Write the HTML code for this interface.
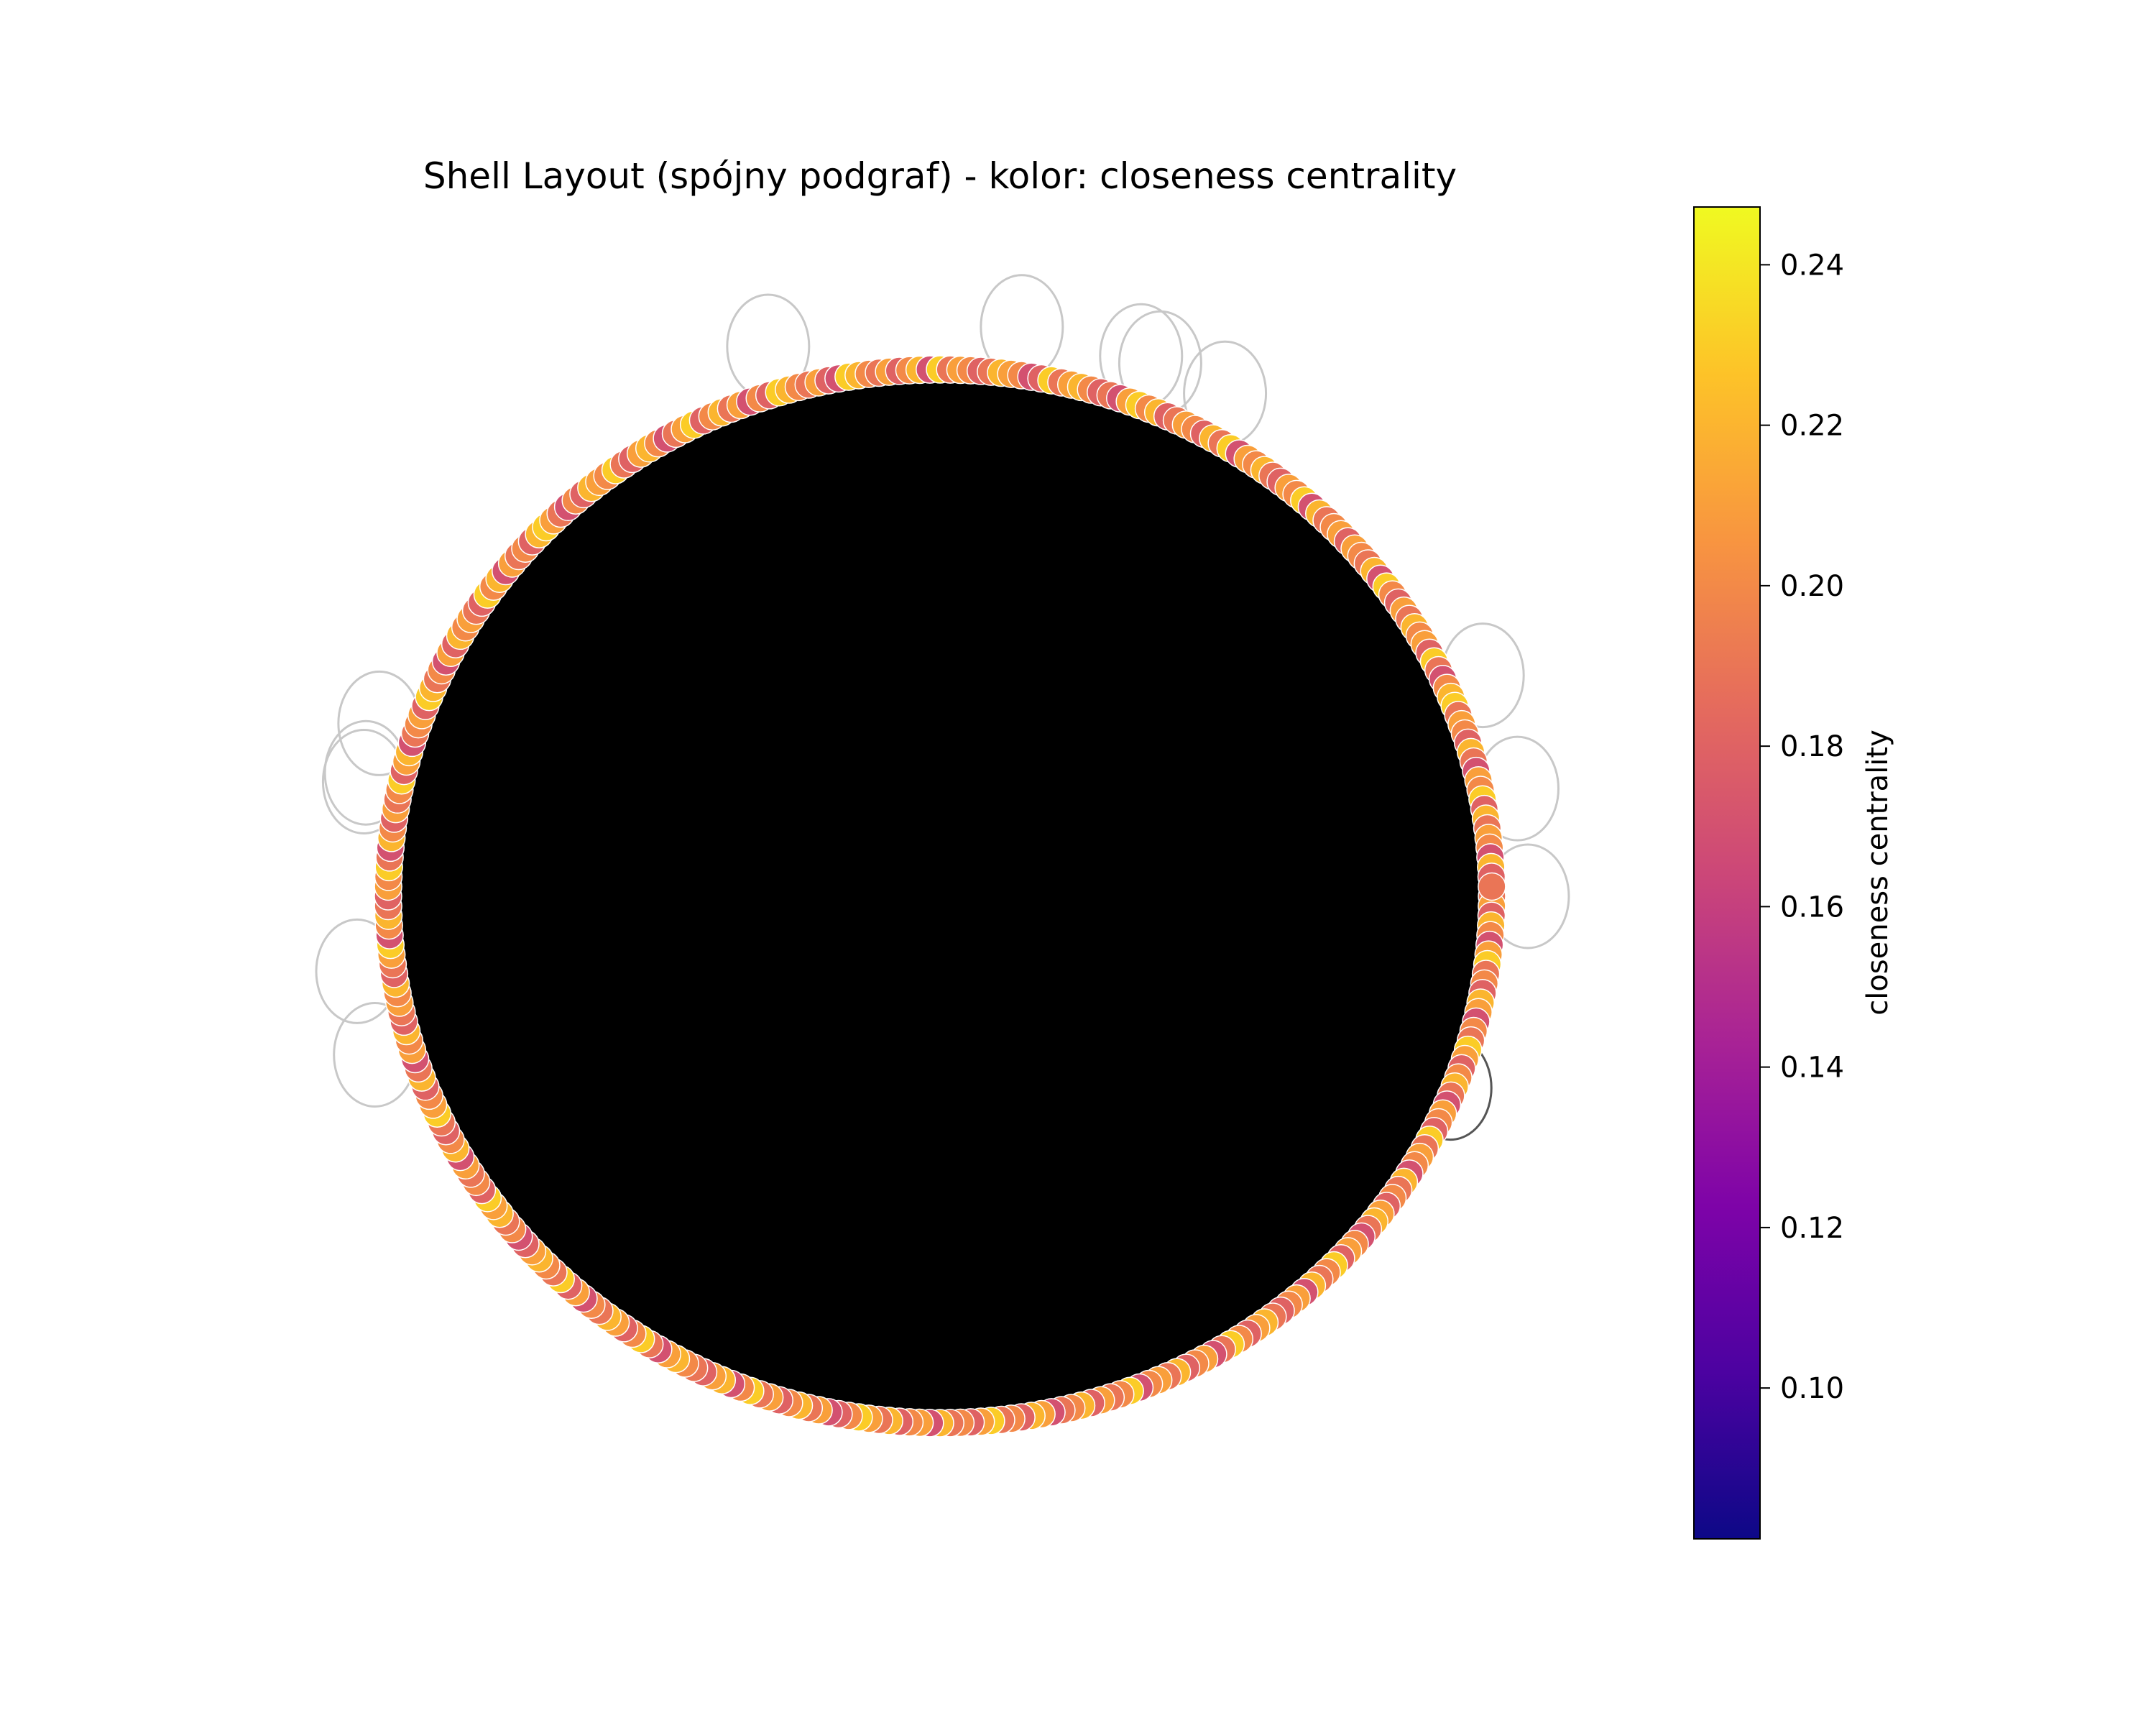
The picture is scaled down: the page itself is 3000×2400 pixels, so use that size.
<!DOCTYPE html>
<html><head><meta charset="utf-8"><style>
html,body{margin:0;padding:0;background:#fff;}
svg{display:block;font-family:"DejaVu Sans","Liberation Sans",sans-serif;}
</style></head><body>
<svg id="fig" width="3000" height="2400" viewBox="0 0 3000 2400">
<defs>
<linearGradient id="plasma" x1="0" y1="1" x2="0" y2="0">
<stop offset="0" stop-color="#0d0887"/><stop offset="0.125" stop-color="#4c02a1"/>
<stop offset="0.25" stop-color="#7e03a8"/><stop offset="0.375" stop-color="#a92395"/>
<stop offset="0.5" stop-color="#cc4778"/><stop offset="0.625" stop-color="#e56b5d"/>
<stop offset="0.75" stop-color="#f89540"/><stop offset="0.875" stop-color="#fdc328"/>
<stop offset="1" stop-color="#f0f921"/></linearGradient>
</defs>
<text x="1308" y="262" font-size="50" text-anchor="middle">Shell Layout (spójny podgraf) - kolor: closeness centrality</text>
<g id="loops"></g>
<ellipse cx="1308" cy="1247" rx="770" ry="735" fill="#000"/>
<g id="nodes"></g>
<rect x="2357" y="288" width="92" height="1853" fill="url(#plasma)" stroke="#000" stroke-width="2"/>
<g id="cbticks"></g>
<text transform="translate(2626,1214) rotate(-90)" font-size="40" text-anchor="middle">closeness centrality</text>
</svg>
<script>
const tickValues=[0.10,0.12,0.14,0.16,0.18,0.20,0.22,0.24];
const tickLabels=["0.10","0.12","0.14","0.16","0.18","0.20","0.22","0.24"];
const cbMin=0.0812, cbMax=0.2472;
const nodeValues=[0.19,0.21,0.18,0.22,0.20,0.17,0.21,0.23,0.19,0.20,0.18,0.22,0.21,0.17,0.20,0.19,0.23,0.21,0.18,0.20,
0.22,0.19,0.17,0.21,0.20,0.18,0.23,0.19,0.21,0.20,0.17,0.22,0.19,0.20,0.18,0.21,0.22,0.19,0.17,0.20,
0.21,0.18,0.23,0.20,0.19,0.22,0.17,0.21,0.20,0.18,0.19,0.22,0.21,0.18,0.20,0.23,0.19,0.17,0.21,0.20,
0.18,0.22,0.19,0.21,0.20,0.17,0.23,0.20,0.19,0.21,0.18,0.22,0.20,0.19,0.17,0.21,0.22,0.18,0.20,0.19,
0.23,0.21,0.18,0.20,0.19,0.22,0.17,0.21,0.20,0.18,0.22,0.19,0.21,0.23,0.20,0.18,0.17,0.21,0.19,0.22,
0.20,0.18,0.21,0.19,0.23,0.20,0.17,0.22,0.21,0.18,0.19,0.20,0.22,0.21,0.17,0.19,0.23,0.20,0.18,0.21,
0.22,0.19,0.20,0.17,0.21,0.18,0.23,0.19,0.20,0.22,0.21,0.18,0.17,0.20,0.19,0.22,0.21,0.23,0.18,0.20,
0.19,0.21,0.17,0.22,0.20,0.18,0.19,0.23,0.21,0.20,0.18,0.22,0.19,0.17,0.21,0.20,0.22,0.18,0.19,0.21,
0.20,0.22,0.18,0.19,0.21,0.23,0.17,0.20,0.22,0.19,0.18,0.21,0.20,0.23,0.19,0.17,0.22,0.20,0.18,0.21,
0.19,0.20,0.23,0.18,0.21,0.22,0.17,0.19,0.20,0.21,0.18,0.23,0.22,0.19,0.20,0.17,0.21,0.18,0.22,0.20,
0.21,0.19,0.18,0.23,0.20,0.22,0.17,0.21,0.19,0.20,0.18,0.22,0.23,0.21,0.19,0.17,0.20,0.18,0.22,0.21,
0.20,0.23,0.19,0.18,0.21,0.22,0.20,0.17,0.19,0.21,0.23,0.18,0.20,0.22,0.19,0.21,0.17,0.20,0.18,0.23,
0.22,0.20,0.19,0.21,0.18,0.17,0.23,0.22,0.20,0.19,0.21,0.18,0.20,0.22,0.17,0.23,0.19,0.21,0.20,0.18,
0.19,0.22,0.21,0.20,0.17,0.18,0.23,0.19,0.21,0.22,0.20,0.18,0.19,0.17,0.21,0.23,0.20,0.22,0.18,0.19,
0.21,0.20,0.18,0.22,0.19,0.23,0.17,0.21,0.20,0.22,0.19,0.18,0.21,0.20,0.23,0.17,0.22,0.19,0.20,0.21,
0.18,0.21,0.20,0.19,0.22,0.17,0.23,0.20,0.18,0.21,0.19,0.22,0.20,0.21,0.18,0.23,0.19,0.17,0.20,0.22,
0.23,0.19,0.21,0.20,0.18,0.22,0.19,0.17,0.21,0.20,0.23,0.18,0.22,0.19,0.21,0.20,0.17,0.22,0.18,0.19];
const loopAngles=[-107,-82,-70,-68,-61,-22.6,-10.8,0,197.5,192.4,191.5,172.5,164,21];
const loopDark=[0,0,0,0,0,0,0,0,0,0,0,0,0,1];

const NS="http://www.w3.org/2000/svg";
const cx=1308, cy=1247, rx=768, ry=733;
const stops=["#0d0887","#4c02a1","#7e03a8","#a92395","#cc4778","#e56b5d","#f89540","#fdc328","#f0f921"];
function hex(h){return [1,3,5].map(i=>parseInt(h.substr(i,2),16));}
function plasma(v){let t=Math.max(0,Math.min(1,(v-cbMin)/(cbMax-cbMin)))*8;let i=Math.min(7,Math.floor(t));let f=t-i;
 const a=hex(stops[i]),b=hex(stops[i+1]);return "rgb("+a.map((c,k)=>Math.round(c+(b[k]-c)*f)).join(",")+")";}
function yScale(v){return 2141-(v-cbMin)/(cbMax-cbMin)*1853;}

const loops=document.getElementById('loops');
loopAngles.forEach((a,i)=>{const r=a*Math.PI/180;
 const k=loopDark[i]?0.93:1;
 const e=document.createElementNS(NS,'ellipse');
 e.setAttribute('cx',cx+818*k*Math.cos(r));e.setAttribute('cy',cy+800*k*Math.sin(r));
 e.setAttribute('rx',57);e.setAttribute('ry',72);e.setAttribute('fill','none');
 e.setAttribute('stroke',loopDark[i]?'#555':'#c8c8c8');e.setAttribute('stroke-width',3);
 
 
 loops.appendChild(e);});

const nodes=document.getElementById('nodes');
const n=nodeValues.length;
nodeValues.forEach((v,i)=>{const r=2*Math.PI*i/n;
 const c=document.createElementNS(NS,'circle');
 c.setAttribute('cx',cx+rx*Math.cos(r));c.setAttribute('cy',cy+ry*Math.sin(r));
 c.setAttribute('r',19);c.setAttribute('fill',plasma(v));
 c.setAttribute('stroke','#fff');c.setAttribute('stroke-width',1.5);
 
 
 nodes.appendChild(c);});

const tg=document.getElementById('cbticks');
tickValues.forEach((v,i)=>{const y=yScale(v);
 const l=document.createElementNS(NS,'line');
 l.setAttribute('x1',2449);l.setAttribute('x2',2463);l.setAttribute('y1',y);l.setAttribute('y2',y);l.setAttribute('stroke','#000');l.setAttribute('stroke-width',2);
 
 
 tg.appendChild(l);
 const t=document.createElementNS(NS,'text');
 t.setAttribute('x',2477);t.setAttribute('y',y+14);t.setAttribute('font-size',40);t.textContent=tickLabels[i];
 
 
 tg.appendChild(t);});
</script>
</body></html>
